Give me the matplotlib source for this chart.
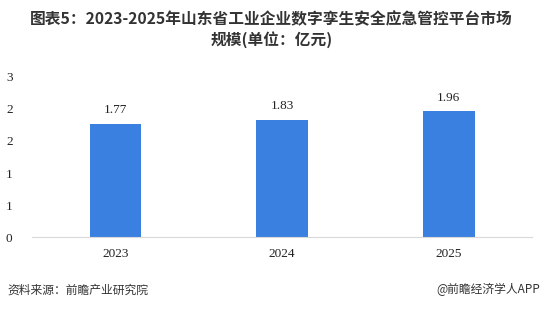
import matplotlib.pyplot as plt
import numpy as np

years = ['2023', '2024', '2025']
values = [1.77, 1.83, 1.96]
ytick_vals = [0, 0.5, 1.0, 1.5, 2.0, 2.5]
ytick_labels = ['0', '1', '1', '2', '2', '3']

plt.rcParams['font.family'] = ['Noto Sans CJK SC', 'DejaVu Sans']

fig = plt.figure(figsize=(5.43, 3.10), dpi=100)
ax = fig.add_axes([0.059, 0.235, 0.921, 0.517])

x = np.arange(len(years))
ax.bar(x, values, width=0.31, color='#3a80e0', zorder=2)

for xi, v in zip(x, values):
    ax.text(xi, v + 0.12, f'{v:.2f}', ha='center', va='bottom',
            fontsize=9.5, family='Liberation Serif', color='#222222')

ax.set_xlim(-0.5, 2.5)
ax.set_ylim(0, 2.5)
ax.set_xticks(x)
ax.set_xticklabels(years, family='Liberation Serif', fontsize=9.5, color='#222222')
ax.set_yticks(ytick_vals)
ax.set_yticklabels(ytick_labels, family='Liberation Serif', fontsize=9.5, color='#222222')
ax.tick_params(axis='both', length=0)
ax.tick_params(axis='y', pad=14)
ax.tick_params(axis='x', pad=8)

for s in ['top', 'right', 'left']:
    ax.spines[s].set_visible(False)
ax.spines['bottom'].set_color('#d9d9d9')

fig.text(0.5, 0.905, '图表5：2023-2025年山东省工业企业数字孪生安全应急管控平台市场\n规模(单位：亿元)',
         ha='center', va='center', fontsize=11.3, fontweight='bold', color='#333333',
         linespacing=1.3)

fig.text(0.013, 0.065, '资料来源：前瞻产业研究院', ha='left', va='center',
         fontsize=8.5, color='#333333')
fig.text(0.995, 0.065, '@前瞻经济学人APP', ha='right', va='center',
         fontsize=8.5, color='#333333')

plt.savefig('out.png', dpi=100)
